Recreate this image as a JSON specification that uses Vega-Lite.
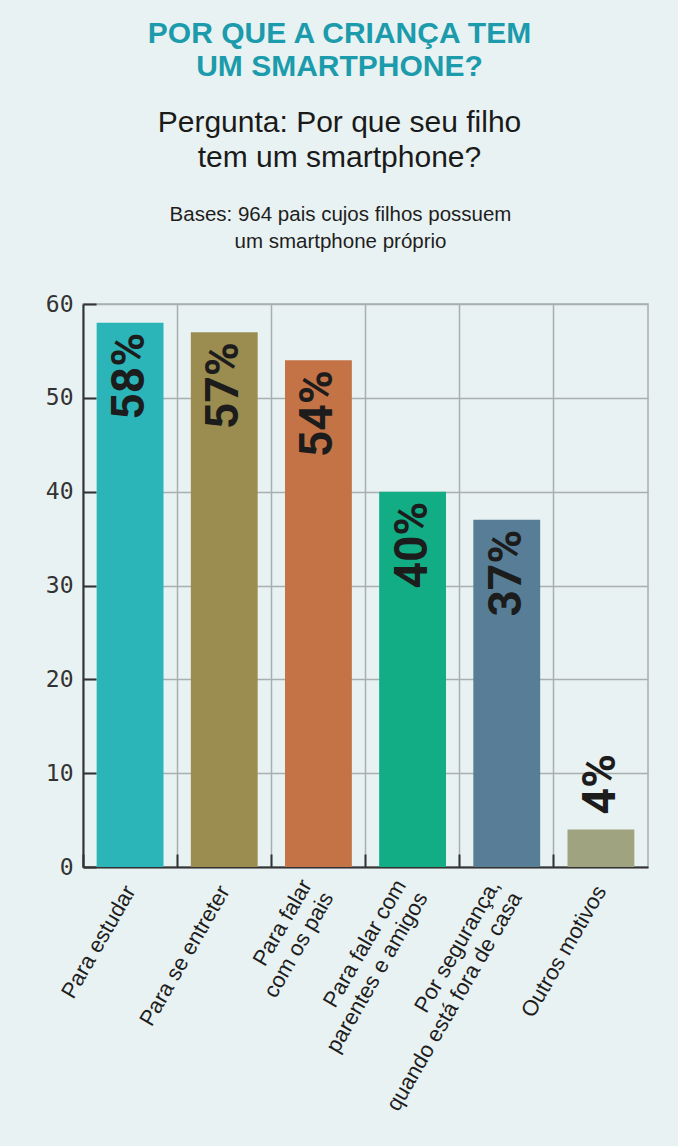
{
  "$schema": "https://vega.github.io/schema/vega-lite/v6.json",
  "width": 565,
  "height": 563,
  "autosize": "none",
  "padding": {"left": 83, "top": 304, "right": 30, "bottom": 279},
  "background": "#e9f2f2",
  "config": {
    "view": {"stroke": "#a9aeae", "strokeWidth": 1.5}
  },
  "title": {
    "text": ["POR QUE A CRIANÇA TEM", "UM SMARTPHONE?"],
    "subtitle": ["Pergunta: Por que seu filho", "tem um smartphone?"],
    "anchor": "middle",
    "frame": "group",
    "dx": -26,
    "offset": 31,
    "font": "Liberation Sans",
    "fontSize": 30,
    "fontWeight": "bold",
    "color": "#1b9bab",
    "lineHeight": 33,
    "subtitleFont": "Liberation Sans",
    "subtitleFontSize": 30,
    "subtitleFontWeight": "normal",
    "subtitleColor": "#1a1a1a",
    "subtitleLineHeight": 35,
    "subtitlePadding": 26
  },
  "data": {
    "values": [
      {"cat": "Para estudar", "value": 58, "txt": "58%"},
      {"cat": "Para se entreter", "value": 57, "txt": "57%"},
      {"cat": "Para falar|com os pais", "value": 54, "txt": "54%"},
      {"cat": "Para falar com|parentes e amigos", "value": 40, "txt": "40%"},
      {"cat": "Por segurança,|quando está fora de casa", "value": 37, "txt": "37%"},
      {"cat": "Outros motivos", "value": 4, "txt": "4%"}
    ]
  },
  "encoding": {
    "x": {
      "field": "cat",
      "type": "nominal",
      "sort": null,
      "scale": {"paddingInner": 0, "paddingOuter": 0},
      "axis": {
        "title": null,
        "bandPosition": 0,
        "grid": true,
        "gridColor": "#a9aeae",
        "gridWidth": 1.5,
        "domainColor": "#333333",
        "domainWidth": 2,
        "tickColor": "#333333",
        "tickWidth": 2,
        "tickSize": -13,
        "labelOffset": {"condition": {"test": "indexof(datum.label, '|') >= 0", "value": -12}, "value": 0},
        "labelPadding": {"condition": {"test": "indexof(datum.label, '|') >= 0", "value": 27}, "value": 33},
        "labelAngle": -60,
        "labelAlign": "right",
        "labelBaseline": "middle",
        "labelFont": "Liberation Sans",
        "labelFontSize": 22,
        "labelLineHeight": 25,
        "labelColor": "#1e1e1e",
        "labelLimit": 0,
        "labelExpr": "split(datum.label, '|')"
      }
    },
    "y": {
      "field": "value",
      "type": "quantitative",
      "scale": {"domain": [0, 60], "nice": false},
      "axis": {
        "values": [0, 10, 20, 30, 40, 50, 60],
        "grid": true,
        "gridColor": "#a9aeae",
        "gridWidth": 1.5,
        "domainColor": "#333333",
        "domainWidth": 2,
        "tickColor": "#333333",
        "tickWidth": 2,
        "tickSize": -13,
        "labelFont": "DejaVu Sans Mono",
        "labelFontSize": 23,
        "labelColor": "#333333",
        "labelPadding": 23,
        "title": ["Bases: 964 pais cujos filhos possuem", "um smartphone próprio"],
        "titleAngle": 0,
        "titleX": 257,
        "titleY": -84,
        "titleAlign": "center",
        "titleBaseline": "alphabetic",
        "titleFont": "Liberation Sans",
        "titleFontSize": 20.5,
        "titleFontWeight": "normal",
        "titleColor": "#1e1e1e",
        "titleLineHeight": 27
      }
    }
  },
  "layer": [
    {
      "mark": {"type": "bar", "width": {"band": 0.71}},
      "encoding": {
        "color": {
          "field": "cat",
          "type": "nominal",
          "sort": null,
          "scale": {
            "domain": ["Para estudar", "Para se entreter", "Para falar|com os pais", "Para falar com|parentes e amigos", "Por segurança,|quando está fora de casa", "Outros motivos"],
            "range": ["#2cb5b9", "#9b8c50", "#c37346", "#13ad85", "#577e96", "#a0a37f"]
          },
          "legend": null
        }
      }
    },
    {
      "transform": [{"filter": "datum.value >= 10"}],
      "mark": {"type": "text", "angle": 270, "align": "right", "baseline": "middle", "dx": -10, "font": "Roboto", "fontSize": 46, "fontWeight": "bold", "fill": "#1c1c1c"},
      "encoding": {"text": {"field": "txt"}}
    },
    {
      "transform": [{"filter": "datum.value < 10"}],
      "mark": {"type": "text", "angle": 270, "align": "left", "baseline": "middle", "dx": 15, "font": "Roboto", "fontSize": 46, "fontWeight": "bold", "fill": "#1c1c1c"},
      "encoding": {"text": {"field": "txt"}}
    }
  ]
}
